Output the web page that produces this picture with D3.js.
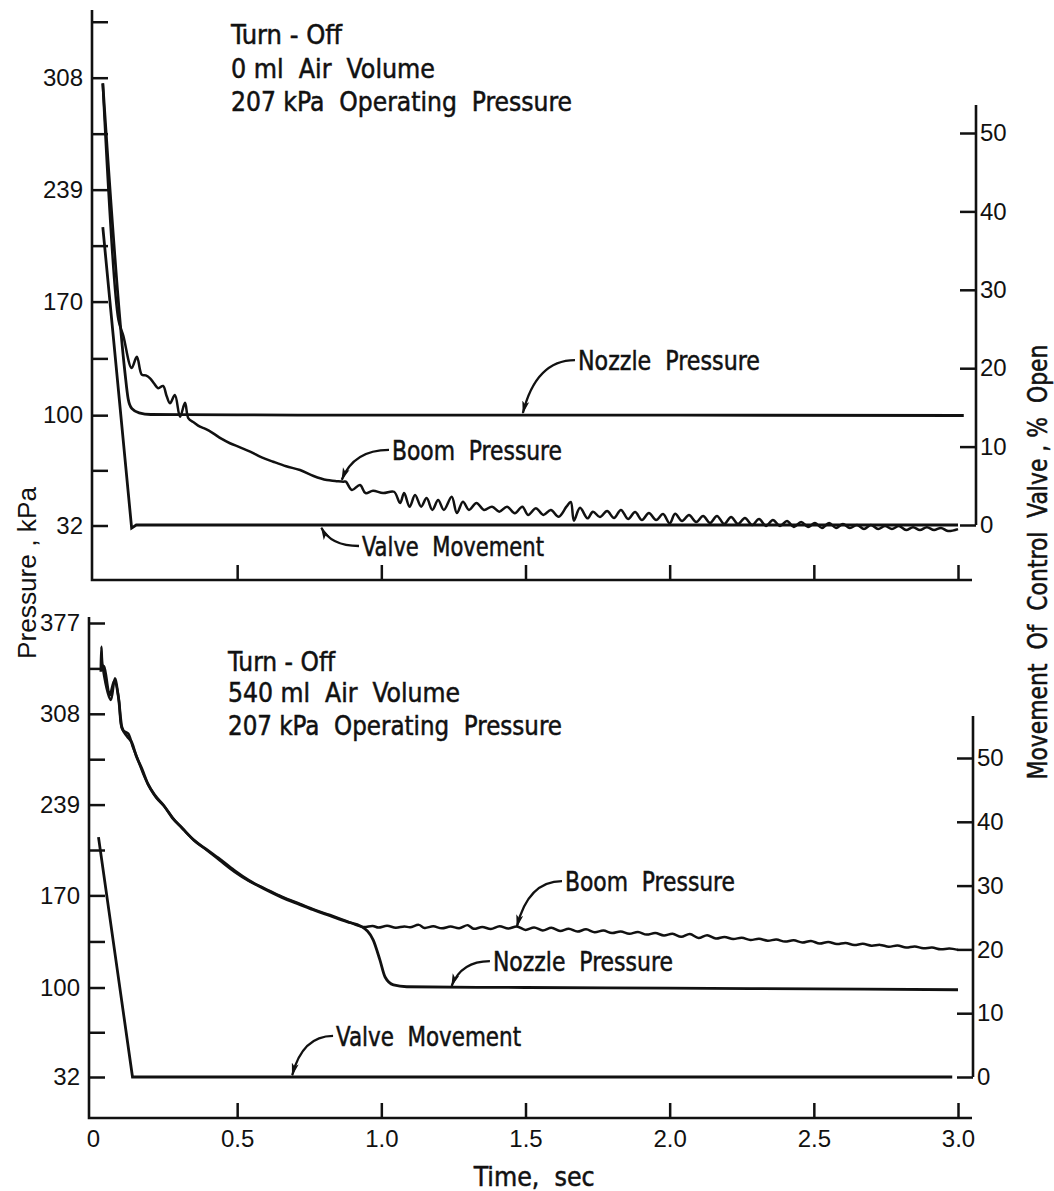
<!DOCTYPE html>
<html>
<head>
<meta charset="utf-8">
<script src="https://cdn.jsdelivr.net/npm/d3@7"></script>
<style>
body { margin: 0; background: #fff; }
svg text { white-space: pre; }
.lbl { font-family: "Liberation Sans Narrow", "DejaVu Sans Condensed", "Liberation Sans", sans-serif; font-size: 27px; fill: #111; stroke: #111; stroke-width: 0.5px; }
.num { font-family: "Liberation Sans", Arial, sans-serif; font-size: 24px; fill: #111; }
</style>
</head>
<body>
<script>
var ink = "#111";

// ---- axis ticks ----
var timeTicks = [0, 0.5, 1.0, 1.5, 2.0, 2.5, 3.0];
var valveTicks = [0, 10, 20, 30, 40, 50];
var pressureTicksTop = [32, 66, 100, 135, 170, 204.5, 239, 273.5, 308, 342.5];
var pressureLabelsTop = [32, 100, 170, 239, 308];
var pressureTicksBottom = [32, 66, 100, 135, 170, 204.5, 239, 273.5, 308, 342.5, 377];
var pressureLabelsBottom = [32, 100, 170, 239, 308, 377];

// ---- top panel: 0 ml air volume, [time s, kPa] or [time s, % open] ----
var topNozzle = [[0.034, 304.5], [0.111, 126], [0.122, 110], [0.135, 104], [0.16, 101.4],
	[0.2, 100.4], [0.5, 100.2], [1.0, 100], [2.0, 100], [3.02, 99.8]];
var topValve = [[0.034, 38], [0.134, -0.4], [0.15, 0], [3.0, 0]];
var topBoom = [[0.034, 304.5], [0.088, 159], [0.105, 149], [0.134, 129], [0.152, 136],
	[0.169, 125], [0.183, 124.5], [0.198, 122.7], [0.212, 119.5], [0.226, 116.6], [0.243, 118],
	[0.255, 112], [0.267, 107.3], [0.284, 112.4], [0.302, 99], [0.319, 107.6], [0.331, 98],
	[0.35, 95.5], [0.371, 92.9], [0.39, 91.5], [0.417, 88.8], [0.445, 85.5], [0.475, 82.7],
	[0.51, 80.2], [0.545, 77.5], [0.585, 74], [0.625, 71.3], [0.67, 68.5], [0.718, 66.2],
	[0.765, 62.5], [0.811, 60], [0.84, 59.5], [0.868, 59],
	[0.877, 59.0], [0.898, 53.9], [0.926, 57.0], [0.945, 52.0], [0.971, 53.4], [1.006, 52.0],
	[1.044, 52.8], [1.065, 45.9], [1.079, 52.0], [1.098, 43.6], [1.117, 50.8], [1.138, 43.6],
	[1.157, 48.9], [1.177, 41.6], [1.197, 47.7], [1.217, 41.6], [1.244, 49.7], [1.262, 39.7],
	[1.283, 46.7], [1.304, 41.6], [1.33, 45.9], [1.356, 41.6], [1.384, 43.6], [1.409, 40.5],
	[1.436, 43.6], [1.463, 39.5], [1.489, 43.6], [1.509, 38.5], [1.536, 42.6], [1.562, 38.5],
	[1.588, 41.6], [1.615, 37.4], [1.642, 43.6], [1.657, 46.5], [1.668, 35.0], [1.689, 43.0],
	[1.715, 36.4], [1.734, 40.5], [1.758, 37.2], [1.783, 40.9], [1.807, 36.6], [1.831, 41.6],
	[1.856, 36.0], [1.88, 40.3], [1.904, 35.4], [1.928, 39.7], [1.953, 35.4], [1.977, 39.1],
	[2.0, 33.3], [2.019, 39.2], [2.043, 34.8], [2.067, 38.5], [2.092, 34.2], [2.116, 37.9],
	[2.14, 33.5], [2.164, 37.9], [2.189, 32.9], [2.213, 37.2], [2.237, 32.9], [2.261, 36.6],
	[2.286, 32.3], [2.31, 36.0], [2.334, 31.7], [2.358, 35.4], [2.383, 31.7], [2.407, 34.8],
	[2.431, 31.1], [2.456, 34.2], [2.48, 31.1], [2.504, 33.5], [2.528, 30.5], [2.553, 33.5],
	[2.577, 30.5], [2.601, 32.9], [2.625, 30.5], [2.65, 32.3], [2.674, 29.8], [2.698, 32.3],
	[2.723, 29.8], [2.747, 31.7], [2.771, 29.8], [2.795, 31.7], [2.82, 29.2], [2.844, 30.9],
	[2.868, 29.2], [2.892, 30.9], [2.917, 29.2], [2.941, 30.5], [2.965, 28.6], [3.0, 29.8]];

// ---- bottom panel: 540 ml air volume ----
var bottomBoom = [[0.027, 340], [0.029, 359], [0.034, 343], [0.062, 318.5], [0.076, 335],
	[0.09, 318], [0.102, 296], [0.122, 293], [0.138, 283], [0.156, 273], [0.175, 262],
	[0.195, 252.6], [0.22, 244], [0.248, 237.4], [0.28, 228], [0.315, 219.7], [0.355, 211],
	[0.394, 204.5], [0.44, 196.5], [0.49, 188], [0.54, 181], [0.593, 175.6], [0.655, 169],
	[0.718, 163.5], [0.77, 159], [0.822, 155.1], [0.88, 150.5], [0.936, 146.0],
	[0.97, 146.8], [0.99, 145.6], [1.02, 146.9], [1.05, 145.4], [1.08, 146.4], [1.10, 145.8],
	[1.13, 147.6], [1.15, 145.3], [1.18, 146.5], [1.21, 145.0], [1.24, 146.3], [1.27, 145.1],
	[1.30, 147.4], [1.32, 144.6], [1.35, 146.0], [1.38, 144.5], [1.41, 146.6], [1.44, 144.8],
	[1.47, 146.4], [1.50, 143.8], [1.53, 145.6], [1.56, 143.4], [1.59, 145.4], [1.62, 142.9],
	[1.65, 144.6], [1.68, 142.5], [1.71, 144.2], [1.74, 142.0], [1.77, 143.3], [1.80, 141.4],
	[1.83, 142.6], [1.86, 140.8], [1.89, 142.2], [1.92, 140.2], [1.95, 141.4], [1.98, 139.6],
	[2.01, 140.8], [2.04, 138.5], [2.07, 140.6], [2.10, 137.6], [2.13, 139.8], [2.16, 137.2],
	[2.19, 138.4], [2.22, 136.9], [2.25, 137.8], [2.28, 136.2], [2.31, 137.0], [2.34, 135.6],
	[2.37, 136.4], [2.40, 134.9], [2.43, 135.9], [2.46, 134.2], [2.49, 135.4], [2.52, 133.4],
	[2.55, 134.6], [2.58, 133.0], [2.61, 133.8], [2.64, 132.3], [2.67, 133.2], [2.70, 131.8],
	[2.73, 132.4], [2.76, 131.0], [2.79, 131.9], [2.82, 130.4], [2.85, 131.2], [2.88, 129.8],
	[2.91, 130.4], [2.94, 129.0], [2.97, 129.6], [3.0, 128.6]];
var bottomNozzle = [[0.029, 345], [0.038, 344], [0.058, 322], [0.074, 333], [0.088, 321],
	[0.1, 298], [0.118, 291], [0.135, 286], [0.15, 276], [0.17, 266], [0.19, 255],
	[0.215, 246], [0.245, 238.5], [0.275, 229], [0.31, 221], [0.35, 212], [0.39, 205.5],
	[0.44, 197.5], [0.49, 189], [0.54, 181.5], [0.593, 175], [0.655, 168.5], [0.718, 163],
	[0.77, 158.5], [0.822, 154.5], [0.88, 150], [0.93, 146.5], [0.972, 136], [0.995, 121],
	[1.013, 108], [1.042, 102], [1.088, 100.6], [1.5, 100], [2.0, 99.5], [2.5, 99], [3.0, 98.3]];
var bottomValve = [[0.019, 37.6], [0.137, 0], [2.98, 0]];

// ---- layout ----
var w = 1054, h = 1191;
var svg = d3.select("body").append("svg").attr("width", w).attr("height", h);

svg.append("defs").append("marker")
	.attr("id", "head")
	.attr("viewBox", "0 0 13 8")
	.attr("refX", 12).attr("refY", 4)
	.attr("markerWidth", 13).attr("markerHeight", 8)
	.attr("markerUnits", "userSpaceOnUse")
	.attr("orient", "auto")
	.append("path")
	.attr("d", "M0,0.5 L13,4 L0,7.5 L3,4 Z")
	.attr("fill", ink);

var x = d3.scaleLinear().domain([0, 3]).range([93, 958]);

var panels = [
	{
		leftMax: 308, leftRange: [525.5, 77.7], rightRange: [525, 133],
		ticks: pressureTicksTop, labels: pressureLabelsTop,
		leftX: 92, leftTop: 10, rightX: 976, rightTop: 105, axisY: 580, axisEnd: 972,
		timeLabels: false,
		titleX: 231, titleY: [44, 78, 111], titleW: [111, 204, 341],
		titles: ["Turn - Off", "0 ml  Air  Volume", "207 kPa  Operating  Pressure"],
		nozzle: topNozzle, boom: topBoom, valve: topValve,
		notes: [
			{ text: "Nozzle  Pressure", t: 1.682, p: 127.8, w: 182, tipT: 1.491, tipP: 101.3 },
			{ text: "Boom  Pressure", t: 1.037, p: 72.4, w: 170, tipT: 0.863, tipP: 60.2 },
			{ text: "Valve  Movement", t: 0.933, p: 13.2, w: 182, tipT: 0.792, tipP: 30.6 }
		]
	},
	{
		leftMax: 377, leftRange: [1077, 623], rightRange: [1077, 758],
		ticks: pressureTicksBottom, labels: pressureLabelsBottom,
		leftX: 89, leftTop: 617, rightX: 973, rightTop: 716, axisY: 1118, axisEnd: 972,
		timeLabels: true,
		titleX: 228, titleY: [671, 702, 735], titleW: [107, 232, 334],
		titles: ["Turn - Off", "540 ml  Air  Volume", "207 kPa  Operating  Pressure"],
		nozzle: bottomNozzle, boom: bottomBoom, valve: bottomValve,
		notes: [
			{ text: "Boom  Pressure", t: 1.637, p: 173.3, w: 170, tipT: 1.47, tipP: 146.2 },
			{ text: "Nozzle  Pressure", t: 1.387, p: 112.5, w: 180, tipT: 1.244, tipP: 101.3 },
			{ text: "Valve  Movement", t: 0.843, p: 55.6, w: 185, tipT: 0.691, tipP: 33.4 }
		]
	}
];

function styleAxis(sel) {
	sel.attr("font-family", null).attr("font-size", null);
	sel.select(".domain").remove();
	sel.selectAll(".tick line").attr("stroke", ink).attr("stroke-width", 2.5);
	sel.selectAll(".tick text").attr("class", "num").attr("fill", ink);
}

function drawPanel(p) {
	var yL = d3.scaleLinear().domain([32, p.leftMax]).range(p.leftRange);
	var yR = d3.scaleLinear().domain([0, 50]).range(p.rightRange);
	var g = svg.append("g");

	// axis lines
	g.append("path")
		.attr("d", "M" + p.leftX + "," + p.leftTop + "V" + p.axisY + "H" + p.axisEnd)
		.attr("fill", "none").attr("stroke", ink).attr("stroke-width", 2.6);
	g.append("line")
		.attr("x1", p.rightX).attr("x2", p.rightX)
		.attr("y1", p.rightTop).attr("y2", yR(0))
		.attr("stroke", ink).attr("stroke-width", 2.6);

	// left pressure axis, ticks pointing in
	g.append("g")
		.attr("transform", "translate(" + p.leftX + ",0)")
		.call(d3.axisLeft(yL).tickValues(p.ticks).tickSizeInner(-16).tickSizeOuter(0).tickPadding(9)
			.tickFormat(function(d) { return p.labels.indexOf(d) >= 0 ? d : ""; }))
		.call(styleAxis);

	// right valve axis
	g.append("g")
		.attr("transform", "translate(" + p.rightX + ",0)")
		.call(d3.axisRight(yR).tickValues(valveTicks).tickSizeInner(-16).tickSizeOuter(0).tickPadding(4))
		.call(styleAxis);

	// time axis
	var ax = g.append("g")
		.attr("transform", "translate(0," + p.axisY + ")")
		.call(d3.axisBottom(x).tickValues(timeTicks).tickSizeInner(-15).tickSizeOuter(0).tickPadding(12)
			.tickFormat(function(d) { return p.timeLabels ? (d === 0 ? "0" : d3.format(".1f")(d)) : ""; }))
		.call(styleAxis);
	ax.selectAll(".tick").filter(function(d) { return d === 0; }).select("line").remove();

	// traces
	var lineL = d3.line().x(function(d) { return x(d[0]); }).y(function(d) { return yL(d[1]); });
	var lineR = d3.line().x(function(d) { return x(d[0]); }).y(function(d) { return yR(d[1]); });

	g.append("path").datum(p.valve)
		.attr("d", lineR)
		.attr("fill", "none").attr("stroke", ink).attr("stroke-width", 2.8);
	g.append("path").datum(p.nozzle)
		.attr("d", lineL.curve(d3.curveMonotoneX))
		.attr("fill", "none").attr("stroke", ink).attr("stroke-width", 2.8);
	g.append("path").datum(p.boom)
		.attr("d", lineL.curve(d3.curveCatmullRom.alpha(0.5)))
		.attr("fill", "none").attr("stroke", ink).attr("stroke-width", 2.5)
		.attr("stroke-linejoin", "round");

	// titles
	g.selectAll(".title")
		.data(p.titles)
		.enter()
		.append("text")
		.attr("class", "lbl")
		.attr("x", p.titleX)
		.attr("y", function(d, i) { return p.titleY[i]; })
		.attr("textLength", function(d, i) { return p.titleW[i]; })
		.attr("lengthAdjust", "spacingAndGlyphs")
		.text(function(d) { return d; });

	// labelled arrows
	p.notes.forEach(function(n) {
		var tx = x(n.t), ty = yL(n.p);
		var sx = tx - 3, sy = ty - 10;
		var ex = x(n.tipT), ey = yL(n.tipP);
		var cx = ex + (sx - ex) * 0.25, cy = sy;
		g.append("path")
			.attr("d", "M" + sx + "," + sy + "Q" + cx + "," + cy + " " + ex + "," + ey)
			.attr("fill", "none").attr("stroke", ink).attr("stroke-width", 2.3)
			.attr("marker-end", "url(#head)");
		g.append("text")
			.attr("class", "lbl")
			.attr("x", tx).attr("y", ty)
			.attr("textLength", n.w)
			.attr("lengthAdjust", "spacingAndGlyphs")
			.text(n.text);
	});
}

panels.forEach(drawPanel);

// axis titles
svg.append("text")
	.attr("class", "num")
	.style("font-size", "26px")
	.attr("text-anchor", "middle")
	.attr("transform", "translate(36,573) rotate(-90)")
	.attr("textLength", 172)
	.attr("lengthAdjust", "spacingAndGlyphs")
	.text("Pressure , kPa");

svg.append("text")
	.attr("class", "lbl")
	.attr("text-anchor", "middle")
	.attr("transform", "translate(1047,562) rotate(-90)")
	.attr("textLength", 435)
	.attr("lengthAdjust", "spacingAndGlyphs")
	.text("Movement  Of  Control  Valve , %  Open");

svg.append("text")
	.attr("class", "lbl")
	.attr("text-anchor", "middle")
	.attr("x", x(1.53))
	.attr("y", 1186)
	.attr("textLength", 121)
	.attr("lengthAdjust", "spacingAndGlyphs")
	.text("Time,  sec");
</script>
</body>
</html>
